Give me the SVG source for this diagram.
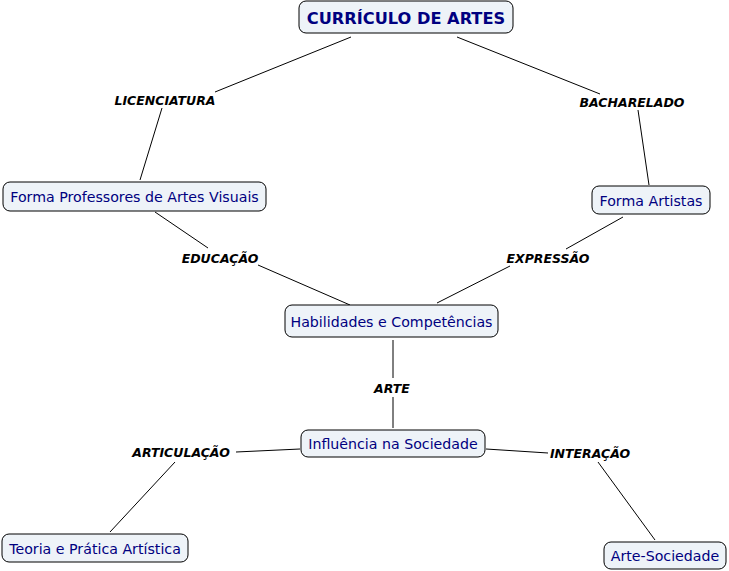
<svg xmlns="http://www.w3.org/2000/svg" width="729" height="571" viewBox="0 0 729 571">
<style>
.box{fill:#eef3f8;stroke:#000;stroke-width:1}
.nt{font-family:"DejaVu Sans",Verdana,sans-serif;font-size:14.2px;fill:#000080;text-anchor:middle;dominant-baseline:central}
.tt{font-family:"DejaVu Sans",Verdana,sans-serif;font-size:16.2px;font-weight:bold;fill:#000080;text-anchor:middle;dominant-baseline:central}
.lb{font-family:"DejaVu Sans",Verdana,sans-serif;font-size:12.5px;font-weight:bold;font-style:italic;fill:#000;text-anchor:middle;dominant-baseline:central}
.cn line{stroke:#000;stroke-width:1}
</style>
<rect width="729" height="571" fill="#fff"/>
<g class="cn" id="connectors">
<line x1="351" y1="37" x2="215" y2="92"/>
<line x1="162" y1="108" x2="140" y2="180"/>
<line x1="457" y1="37" x2="600" y2="94"/>
<line x1="638" y1="110" x2="649" y2="185"/>
<line x1="155" y1="212" x2="208" y2="248"/>
<line x1="258" y1="265" x2="350" y2="305"/>
<line x1="623" y1="217" x2="566" y2="249"/>
<line x1="510" y1="266" x2="437" y2="303"/>
<line x1="393" y1="340" x2="393" y2="378"/>
<line x1="393" y1="397" x2="393" y2="428"/>
<line x1="300" y1="449" x2="236" y2="452"/>
<line x1="175" y1="462" x2="110" y2="532"/>
<line x1="486" y1="449" x2="548" y2="453"/>
<line x1="598" y1="462" x2="655" y2="540"/>
</g>
<g id="labels">
<text class="lb" x="165" y="100">LICENCIATURA</text>
<text class="lb" x="632" y="102">BACHARELADO</text>
<text class="lb" x="220" y="258">EDUCAÇÃO</text>
<text class="lb" x="548" y="258">EXPRESSÃO</text>
<text class="lb" x="392" y="388">ARTE</text>
<text class="lb" x="181" y="452">ARTICULAÇÃO</text>
<text class="lb" x="590" y="453">INTERAÇÃO</text>
</g>
<g id="n-curriculo"><rect class="box" x="299" y="1" width="214" height="32" rx="7"/><text class="tt" x="406" y="18">CURRÍCULO DE ARTES</text></g>
<g id="n-professores"><rect class="box" x="3" y="182" width="263" height="29" rx="7"/><text class="nt" x="134.5" y="197">Forma Professores de Artes Visuais</text></g>
<g id="n-artistas"><rect class="box" x="592" y="186" width="118" height="28" rx="7"/><text class="nt" x="651" y="200.5">Forma Artistas</text></g>
<g id="n-habilidades"><rect class="box" x="285" y="305" width="213" height="32" rx="7"/><text class="nt" x="391.5" y="321.5">Habilidades e Competências</text></g>
<g id="n-influencia"><rect class="box" x="301" y="430" width="184" height="27" rx="7"/><text class="nt" x="393" y="444">Influência na Sociedade</text></g>
<g id="n-teoria"><rect class="box" x="2" y="534" width="186" height="28" rx="7"/><text class="nt" x="95" y="548.5">Teoria e Prática Artística</text></g>
<g id="n-artesoc"><rect class="box" x="604" y="542" width="122" height="27" rx="7"/><text class="nt" x="665" y="556">Arte-Sociedade</text></g>
</svg>
